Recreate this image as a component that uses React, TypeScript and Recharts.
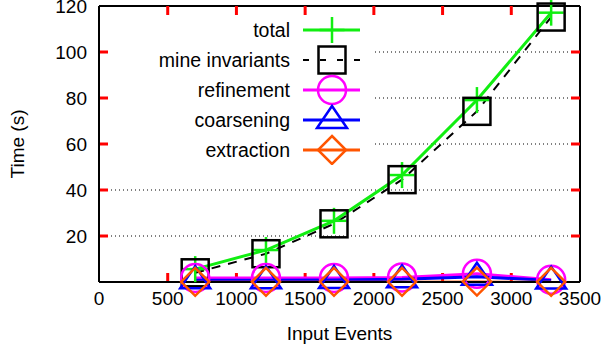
import { LineChart, Line, XAxis, YAxis, CartesianGrid, Legend, ReferenceLine } from "recharts";

// Input events on x, time in seconds on y
const inputEvents = [700, 1215, 1710, 2205, 2750, 3290];
const totalTime = [5.6, 13.9, 26.6, 46.5, 79.1, 117.1];
const mineInvariantsTime = [4.0, 12.3, 25.3, 44.5, 74.2, 115.2];
const refinementTime = [1.7, 1.7, 1.7, 2.0, 3.6, 1.0];
const coarseningTime = [0.8, 0.8, 0.9, 1.2, 2.3, 0.6];
const extractionTime = [0.1, 0.1, 0.1, 0.1, 0.2, 0.1];

const xTicks = [0, 500, 1000, 1500, 2000, 2500, 3000, 3500];
const yTicks = [20, 40, 60, 80, 100, 120];
const X_MAX = 3500;
const Y_MAX = 120;

const GREEN = "#11ee11";
const MAGENTA = "#ff00ff";
const BLUE = "#0000ff";
const ORANGE = "#ff5500";
const FONT = "'Liberation Sans', Arial, sans-serif";

const W = 605;
const H = 349;
const MARGIN = { top: 6, right: 25, bottom: 27, left: 0 };
const Y_AXIS_W = 99;
const X_AXIS_H = 40;
const PLOT_W = W - MARGIN.right - Y_AXIS_W;
const PLOT_H = H - MARGIN.top - MARGIN.bottom - X_AXIS_H;
const TICK_LEN = 9;
const TICK_DX = (TICK_LEN * X_MAX) / PLOT_W;
const TICK_DY = (TICK_LEN * Y_MAX) / PLOT_H;
const TICK_COLOR = "red";

const data = inputEvents.map((x, i) => ({
  x,
  total: totalTime[i],
  mine: mineInvariantsTime[i],
  refinement: refinementTime[i],
  coarsening: coarseningTime[i],
  extraction: extractionTime[i],
}));

const plus = (cx: number, cy: number, key?: any) => (
  <g key={key}>
    <line x1={cx - 12.5} y1={cy} x2={cx + 12.5} y2={cy} stroke={GREEN} strokeWidth={2.5} />
    <line x1={cx} y1={cy - 13} x2={cx} y2={cy + 13} stroke={GREEN} strokeWidth={2.5} />
  </g>
);
const square = (cx: number, cy: number, key?: any) => (
  <rect key={key} x={cx - 13.5} y={cy - 13.5} width={27} height={27} fill="none" stroke="#000" strokeWidth={2.5} />
);
const circle = (cx: number, cy: number, key?: any) => (
  <circle key={key} cx={cx} cy={cy} r={14} fill="none" stroke={MAGENTA} strokeWidth={2.5} />
);
const triangle = (cx: number, cy: number, key?: any) => (
  <polygon key={key} points={`${cx},${cy - 14} ${cx + 15},${cy + 8} ${cx - 15},${cy + 8}`} fill="none" stroke={BLUE} strokeWidth={2.5} />
);
const diamond = (cx: number, cy: number, key?: any) => (
  <polygon key={key} points={`${cx},${cy - 14} ${cx + 14},${cy} ${cx},${cy + 14} ${cx - 14},${cy}`} fill="none" stroke={ORANGE} strokeWidth={2.5} />
);

const dotOf = (fn: any) => (p: any) => fn(Number(p.cx), Number(p.cy), `d-${p.index}`);

const legendRows = [
  { label: "total", color: GREEN, dash: undefined, marker: plus },
  { label: "mine invariants", color: "#000", dash: "6 11", marker: square },
  { label: "refinement", color: MAGENTA, dash: undefined, marker: circle },
  { label: "coarsening", color: BLUE, dash: undefined, marker: triangle },
  { label: "extraction", color: ORANGE, dash: undefined, marker: diamond },
];

const renderLegend = () => (
  <svg width={262} height={150} style={{ display: "block" }}>
    {legendRows.map((r, i) => {
      const cy = 15 + 30 * i;
      return (
        <g key={r.label}>
          <text x={180} y={cy + 6.8} textAnchor="end" fontSize={19.5} fontFamily={FONT} fill="#000">
            {r.label}
          </text>
          <line x1={193} y1={cy} x2={250} y2={cy} stroke={r.color} strokeWidth={r.dash ? 2 : 3} strokeDasharray={r.dash} />
          {r.marker(222, cy)}
        </g>
      );
    })}
  </svg>
);

const XTick = (props: any) => (
  <text x={Number(props.x)} y={Number(props.y)} textAnchor="middle" fontSize={19} fontFamily={FONT} fill="#000">
    {props.payload.value}
  </text>
);

const YTick = (props: any) => (
  <text x={Number(props.x)} y={Number(props.y)} dy={6.8} textAnchor="end" fontSize={19} fontFamily={FONT} fill="#000">
    {props.payload.value}
  </text>
);

const innerX = xTicks.filter((v) => v > 0 && v < X_MAX);
const innerY = yTicks.filter((v) => v > 0 && v < Y_MAX);

export default function App() {
  return (
    <div style={{ width: W, height: H, background: "#fff" }}>
      <style>{`body{margin:0}`}</style>
      <LineChart width={W} height={H} data={data} margin={MARGIN}>
        <CartesianGrid vertical={false} stroke="#000" strokeDasharray="1 3" strokeWidth={1} />
        <XAxis
          dataKey="x"
          type="number"
          domain={[0, X_MAX]}
          ticks={xTicks}
          interval={0}
          height={X_AXIS_H}
          tickSize={0}
          tickMargin={23}
          stroke="#000"
          axisLine={{ strokeWidth: 2 }}
          tickLine={false}
          tick={XTick}
          label={{
            content: (p: any) => (
              <text
                x={p.viewBox.x + p.viewBox.width / 2}
                y={340}
                textAnchor="middle"
                fontSize={19}
                fontFamily={FONT}
                fill="#000"
              >
                Input Events
              </text>
            ),
          }}
        />
        <YAxis
          type="number"
          domain={[0, Y_MAX]}
          ticks={yTicks}
          interval={0}
          width={Y_AXIS_W}
          tickSize={0}
          tickMargin={12}
          stroke="#000"
          axisLine={{ strokeWidth: 2 }}
          tickLine={false}
          tick={YTick}
          label={{
            content: (p: any) => (
              <text
                x={17}
                y={p.viewBox.y + p.viewBox.height / 2}
                transform={`rotate(-90, 17, ${p.viewBox.y + p.viewBox.height / 2})`}
                dy={6.5}
                textAnchor="middle"
                fontSize={19}
                fontFamily={FONT}
                fill="#000"
              >
                Time (s)
              </text>
            ),
          }}
        />
        <ReferenceLine y={Y_MAX} stroke="#000" strokeWidth={2} />
        <ReferenceLine x={X_MAX} stroke="#000" strokeWidth={2} />
        {innerX.map((v) => (
          <ReferenceLine key={`xb${v}`} segment={[{ x: v, y: 0 }, { x: v, y: TICK_DY }]} stroke={TICK_COLOR} strokeWidth={3} ifOverflow="visible" />
        ))}
        {innerX.map((v) => (
          <ReferenceLine key={`xt${v}`} segment={[{ x: v, y: Y_MAX - TICK_DY }, { x: v, y: Y_MAX }]} stroke={TICK_COLOR} strokeWidth={3} ifOverflow="visible" />
        ))}
        {innerY.map((v) => (
          <ReferenceLine key={`yl${v}`} segment={[{ x: 0, y: v }, { x: TICK_DX, y: v }]} stroke={TICK_COLOR} strokeWidth={3} ifOverflow="visible" />
        ))}
        {innerY.map((v) => (
          <ReferenceLine key={`yr${v}`} segment={[{ x: X_MAX - TICK_DX, y: v }, { x: X_MAX, y: v }]} stroke={TICK_COLOR} strokeWidth={3} ifOverflow="visible" />
        ))}
        <Legend
          layout="vertical"
          align="center"
          verticalAlign="middle"
          content={renderLegend}
          wrapperStyle={{ position: "absolute", left: 110, top: 15, width: 262, height: 150, background: "#fff" }}
        />
        <Line dataKey="total" stroke={GREEN} strokeWidth={3} dot={dotOf(plus)} activeDot={false} isAnimationActive={false} />
        <Line dataKey="mine" stroke="#000" strokeWidth={2} strokeDasharray="9 8" dot={dotOf(square)} activeDot={false} isAnimationActive={false} />
        <Line dataKey="refinement" stroke={MAGENTA} strokeWidth={3} dot={dotOf(circle)} activeDot={false} isAnimationActive={false} />
        <Line dataKey="coarsening" stroke={BLUE} strokeWidth={3} dot={dotOf(triangle)} activeDot={false} isAnimationActive={false} />
        <Line dataKey="extraction" stroke={ORANGE} strokeWidth={2} dot={dotOf(diamond)} activeDot={false} isAnimationActive={false} />
      </LineChart>
    </div>
  );
}
